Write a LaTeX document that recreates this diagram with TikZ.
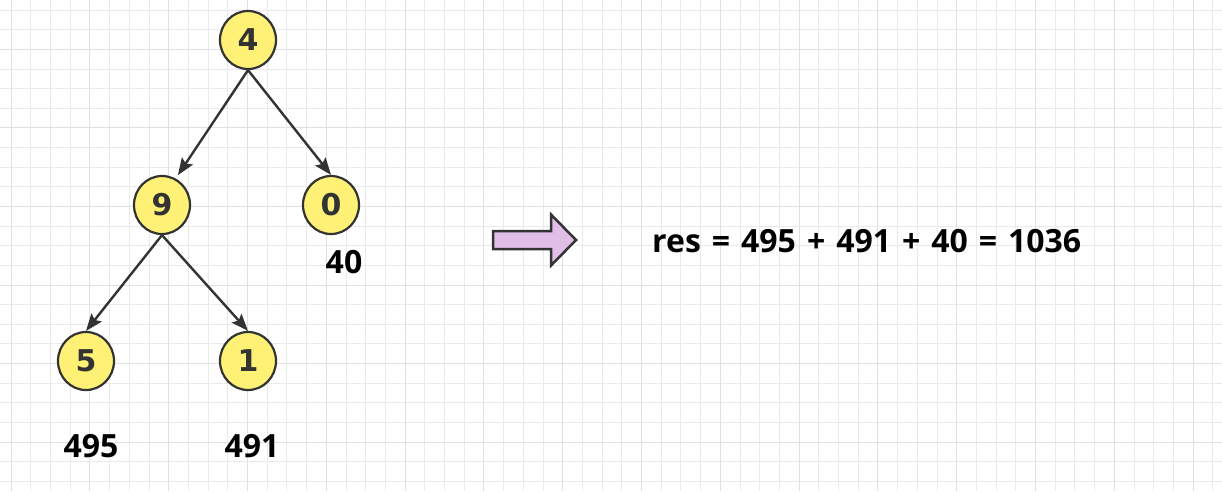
\documentclass[tikz,border=0pt]{standalone}
\usepackage{fontspec}
\setmainfont{Open Sans}
\newfontfamily\nodefont{DejaVu Sans}
\usetikzlibrary{arrows.meta,shapes.geometric}
\definecolor{nodefill}{HTML}{FFF176}
\definecolor{ink}{HTML}{333333}
\definecolor{arrowfill}{HTML}{E1BEE7}
\definecolor{gridminor}{HTML}{EAEAEA}
\definecolor{gridmajor}{HTML}{E0E0E0}
\tikzset{
  treenode/.style={ellipse, draw=ink, line width=2.2pt, fill=nodefill,
    minimum width=56pt, minimum height=58pt, inner sep=0pt,
    font=\nodefont\bfseries\fontsize{30}{30}\selectfont, text=ink},
  edge/.style={draw=ink, line width=2.4pt,
    -{Stealth[length=17pt, width=13pt, inset=3pt]}},
  sumlabel/.style={font=\bfseries\fontsize{32}{32}\selectfont, text=black, inner sep=0pt},
  minorline/.style={draw=gridminor, line width=1pt},
  majorline/.style={draw=gridmajor, line width=1pt},
  bigarrow/.style={draw=ink, line width=2.5pt, fill=arrowfill, line join=miter}
}
\begin{document}
\begin{tikzpicture}[x=1pt, y=-1pt]
\useasboundingbox (0,0) rectangle (1222,491);
\fill[white] (0,0) rectangle (1222,491);
% grid
\foreach \i in {0,...,61} {
  \pgfmathsetmacro{\gx}{round(10.7+19.7*\i)+0.5}
  \draw[minorline] (\gx,0) -- (\gx,491);}
\foreach \j in {0,...,24} {
  \pgfmathsetmacro{\gy}{round(9.7+19.63*\j)+0.5}
  \draw[minorline] (0,\gy) -- (1222,\gy);}
\foreach \i in {0,4,...,60} {
  \pgfmathsetmacro{\gx}{round(10.7+19.7*\i)+0.5}
  \draw[majorline] (\gx,0) -- (\gx,491);}
\foreach \j in {2,6,...,22} {
  \pgfmathsetmacro{\gy}{round(9.7+19.63*\j)+0.5}
  \draw[majorline] (0,\gy) -- (1222,\gy);}
% tree
\node[treenode] (n4) at (248,40) {4};
\node[treenode] (n9) at (162,205) {9};
\node[treenode] (n0) at (331,205) {0};
\node[treenode] (n5) at (86,361) {5};
\node[treenode] (n1) at (248,361) {1};
\draw[edge] (n4.south) -- ([xshift=1pt,yshift=4pt]n9.60);
\draw[edge] (n4.south) -- (n0.north);
\draw[edge] (n9.south) -- (n5.north);
\draw[edge] (n9.south) -- (n1.north);
% labels
\node[sumlabel] (l40) at (344,262) {40};
\node[sumlabel] (l495) at (91,446) {495};
\node[sumlabel] (l491) at (252,446) {491};
% big arrow
\draw[bigarrow] (493,231) -- (551,231) -- (551,214.5) -- (576,240) -- (551,265.5) -- (551,249) -- (493,249) -- cycle;
\node[sumlabel] (res) at (866.7,241.3) {\spaceskip=11pt res = 495 + 491 + 40 = 1036};
\end{tikzpicture}
\end{document}
